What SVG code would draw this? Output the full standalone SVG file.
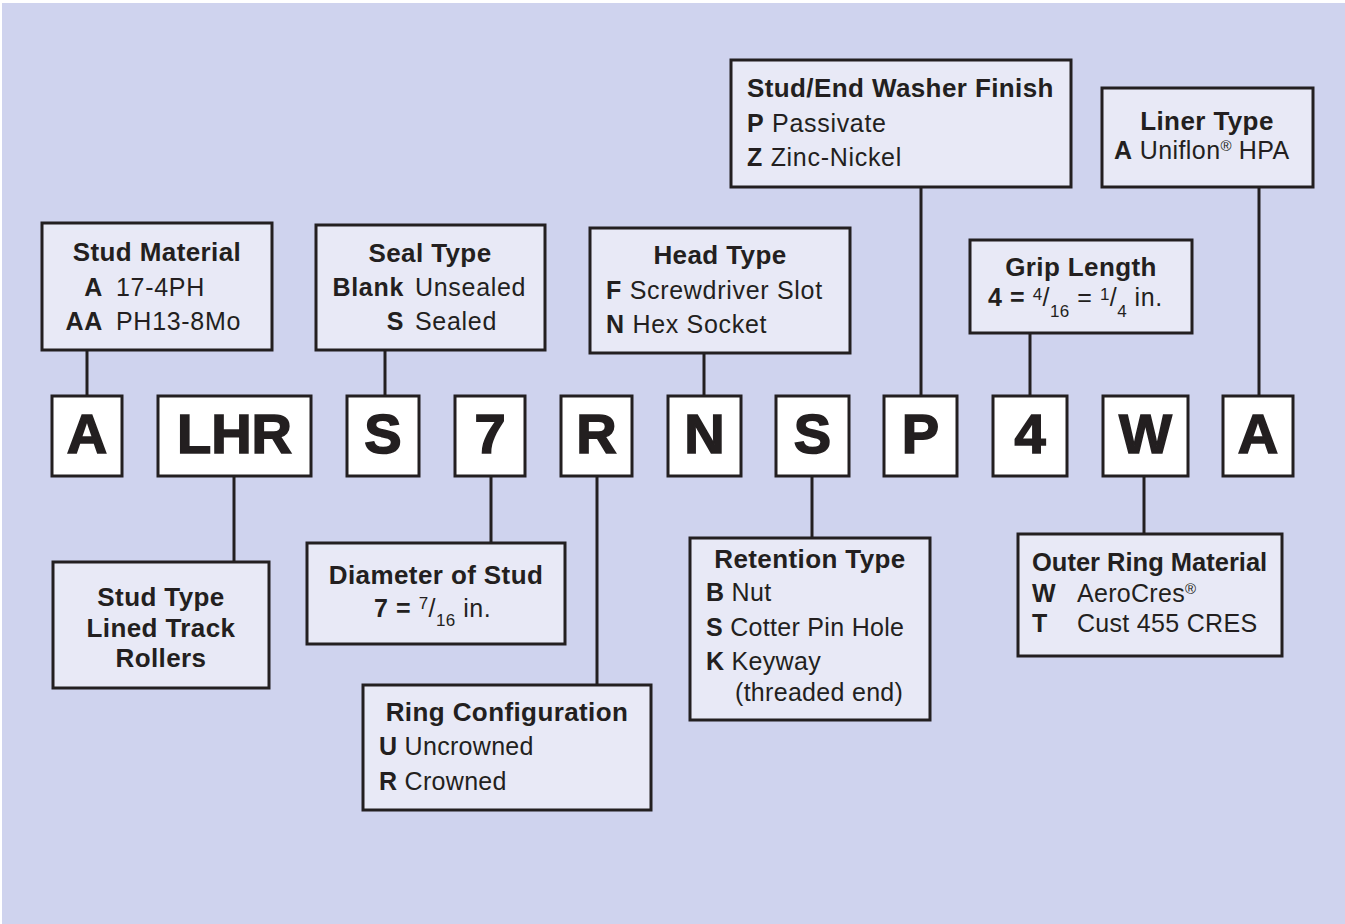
<svg xmlns="http://www.w3.org/2000/svg" width="1345" height="924" viewBox="0 0 1345 924">
<style>
.bg{fill:#CFD3EE}
.box{fill:#E8E9F6;stroke:#231F20;stroke-width:3}
.code{fill:#FFFFFF;stroke:#231F20;stroke-width:3}
.ln{stroke:#231F20;stroke-width:3;fill:none}
text{font-family:"Liberation Sans",Arial,Helvetica,sans-serif;fill:#231F20}
.t{font-size:26px;font-weight:bold;letter-spacing:0.4px}
.r{font-size:25px;letter-spacing:0.7px}
.b{font-weight:bold}
.c{font-size:56px;font-weight:bold;text-anchor:middle;stroke:#231F20;stroke-width:1.6}
.m{text-anchor:middle}
.e{text-anchor:end}
.s{font-size:15px;letter-spacing:0}
.f{font-size:17px;letter-spacing:0.3px}
</style>
<rect x="0" y="0" width="1345" height="924" fill="#FFFFFF"/>
<rect class="bg" x="2" y="3" width="1343" height="921"/>

<g id="connectors">
<line class="ln" x1="87" y1="350" x2="87" y2="396"/>
<line class="ln" x1="385" y1="350" x2="385" y2="396"/>
<line class="ln" x1="704" y1="353" x2="704" y2="396"/>
<line class="ln" x1="921" y1="187" x2="921" y2="396"/>
<line class="ln" x1="1030" y1="333" x2="1030" y2="396"/>
<line class="ln" x1="1259" y1="187" x2="1259" y2="396"/>
<line class="ln" x1="234" y1="476" x2="234" y2="562"/>
<line class="ln" x1="491" y1="476" x2="491" y2="543"/>
<line class="ln" x1="597" y1="476" x2="597" y2="685"/>
<line class="ln" x1="812" y1="476" x2="812" y2="538"/>
<line class="ln" x1="1144" y1="477" x2="1144" y2="534"/>
</g>

<g id="code-A1"><rect class="code" x="52" y="396" width="70" height="80"/><text class="c" x="87" y="453">A</text></g>
<g id="code-LHR"><rect class="code" x="158" y="396" width="153" height="80"/><text class="c" x="234.5" y="453">LHR</text></g>
<g id="code-S1"><rect class="code" x="347" y="396" width="72" height="80"/><text class="c" x="383" y="453">S</text></g>
<g id="code-7"><rect class="code" x="455" y="396" width="70" height="80"/><text class="c" x="490" y="453">7</text></g>
<g id="code-R"><rect class="code" x="561" y="396" width="71" height="80"/><text class="c" x="596.5" y="453">R</text></g>
<g id="code-N"><rect class="code" x="668" y="396" width="73" height="80"/><text class="c" x="704.5" y="453">N</text></g>
<g id="code-S2"><rect class="code" x="776" y="396" width="73" height="80"/><text class="c" x="812.5" y="453">S</text></g>
<g id="code-P"><rect class="code" x="884" y="396" width="73" height="80"/><text class="c" x="920.5" y="453">P</text></g>
<g id="code-4"><rect class="code" x="993" y="396" width="74" height="80"/><text class="c" x="1030" y="453">4</text></g>
<g id="code-W"><rect class="code" x="1103" y="396" width="85" height="80"/><text class="c" x="1145.5" y="453">W</text></g>
<g id="code-A2"><rect class="code" x="1223" y="396" width="70" height="80"/><text class="c" x="1258" y="453">A</text></g>

<g id="stud-material">
<rect class="box" x="42" y="223" width="230" height="127"/>
<text class="t m" x="157" y="261">Stud Material</text>
<text class="r b e" x="103" y="296">A</text><text class="r" x="116" y="296">17-4PH</text>
<text class="r b e" x="103" y="330">AA</text><text class="r" x="116" y="330">PH13-8Mo</text>
</g>

<g id="seal-type">
<rect class="box" x="316" y="225" width="229" height="125"/>
<text class="t m" x="430" y="262">Seal Type</text>
<text class="r b e" x="404" y="296">Blank</text><text class="r" x="415" y="296">Unsealed</text>
<text class="r b e" x="404" y="330">S</text><text class="r" x="415" y="330">Sealed</text>
</g>

<g id="head-type">
<rect class="box" x="590" y="228" width="260" height="125"/>
<text class="t m" x="720" y="264">Head Type</text>
<text class="r" x="606" y="299"><tspan class="b">F</tspan> Screwdriver Slot</text>
<text class="r" x="606" y="333"><tspan class="b">N</tspan> Hex Socket</text>
</g>

<g id="washer-finish">
<rect class="box" x="731" y="60" width="340" height="127"/>
<text class="t" x="747" y="97">Stud/End Washer Finish</text>
<text class="r" x="747" y="132"><tspan class="b">P</tspan> Passivate</text>
<text class="r" x="747" y="166"><tspan class="b">Z</tspan> Zinc-Nickel</text>
</g>

<g id="liner-type">
<rect class="box" x="1102" y="88" width="211" height="99"/>
<text class="t m" x="1207" y="130">Liner Type</text>
<text class="r" x="1114" y="159" style="letter-spacing:0.4px"><tspan class="b">A</tspan> Uniflon<tspan class="s" dy="-8">®</tspan><tspan dy="8"> HPA</tspan></text>
</g>

<g id="grip-length">
<rect class="box" x="970" y="240" width="222" height="93"/>
<text class="t m" x="1081" y="276">Grip Length</text>
<text class="r" x="988" y="306" style="letter-spacing:0.6px"><tspan class="b">4 =</tspan> <tspan class="f" dy="-6">4</tspan><tspan dy="6">/</tspan><tspan class="f" dy="11">16</tspan><tspan dy="-11"> = </tspan><tspan class="f" dy="-6">1</tspan><tspan dy="6">/</tspan><tspan class="f" dy="11">4</tspan><tspan dy="-11"> in.</tspan></text>
</g>

<g id="stud-type">
<rect class="box" x="53" y="562" width="216" height="126"/>
<text class="t m" x="161" y="606">Stud Type</text>
<text class="t m" x="161" y="637">Lined Track</text>
<text class="t m" x="161" y="667">Rollers</text>
</g>

<g id="diameter">
<rect class="box" x="307" y="543" width="258" height="101"/>
<text class="t m" x="436" y="584">Diameter of Stud</text>
<text class="r" x="374" y="617" style="letter-spacing:0.6px"><tspan class="b">7 =</tspan> <tspan class="f" dy="-8">7</tspan><tspan dy="8">/</tspan><tspan class="f" dy="9">16</tspan><tspan dy="-9"> in.</tspan></text>
</g>

<g id="ring-config">
<rect class="box" x="363" y="685" width="288" height="125"/>
<text class="t m" x="507" y="721">Ring Configuration</text>
<text class="r" x="379" y="755" style="letter-spacing:0.3px"><tspan class="b">U</tspan> Uncrowned</text>
<text class="r" x="379" y="790" style="letter-spacing:0.3px"><tspan class="b">R</tspan> Crowned</text>
</g>

<g id="retention-type">
<rect class="box" x="690" y="538" width="240" height="182"/>
<text class="t m" x="810" y="568">Retention Type</text>
<text class="r" x="706" y="601" style="letter-spacing:0.3px"><tspan class="b">B</tspan> Nut</text>
<text class="r" x="706" y="636" style="letter-spacing:0.3px"><tspan class="b">S</tspan> Cotter Pin Hole</text>
<text class="r" x="706" y="670" style="letter-spacing:0.3px"><tspan class="b">K</tspan> Keyway</text>
<text class="r" x="735" y="701" style="letter-spacing:0.3px">(threaded end)</text>
</g>

<g id="outer-ring">
<rect class="box" x="1018" y="534" width="264" height="122"/>
<text class="t" x="1032" y="571" style="font-size:25.5px;letter-spacing:0">Outer Ring Material</text>
<text class="r b" x="1032" y="602">W</text><text class="r" x="1077" y="602" style="letter-spacing:0.3px">AeroCres<tspan class="s" dy="-8">®</tspan></text>
<text class="r b" x="1032" y="632">T</text><text class="r" x="1077" y="632" style="letter-spacing:0.3px">Cust 455 CRES</text>
</g>
</svg>
